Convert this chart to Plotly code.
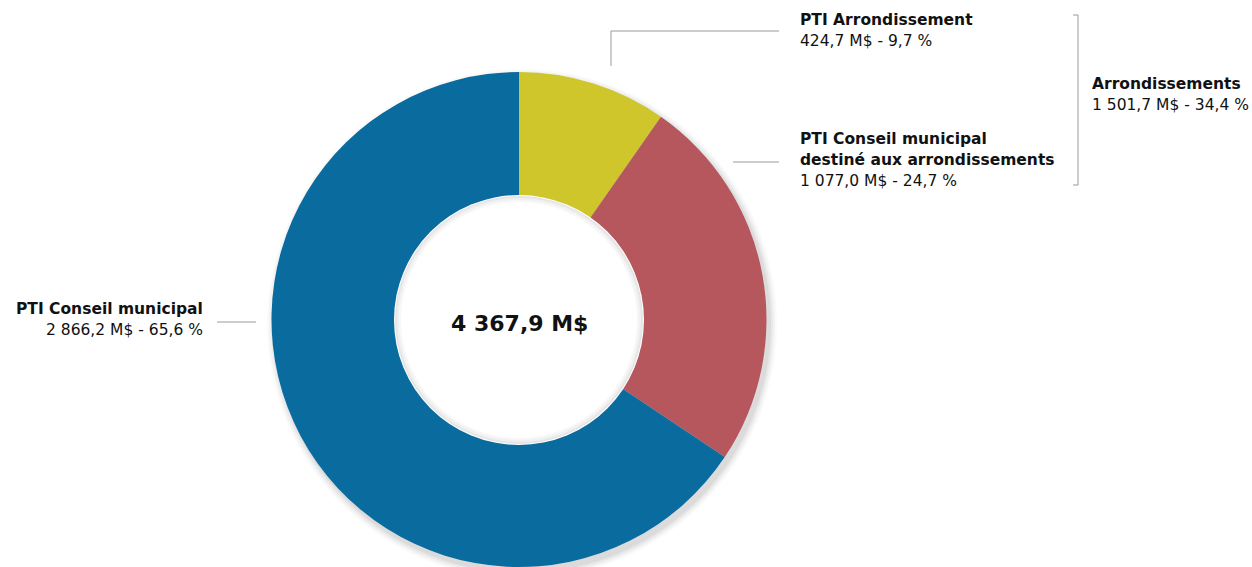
import plotly.graph_objects as go

W, H = 1252, 567

labels = ["PTI Arrondissement", "PTI Conseil municipal destiné aux arrondissements", "PTI Conseil municipal"]
values = [424.7, 1077.0, 2866.2]
colors = ["#CEC62A", "#B5575D", "#0A6B9E"]
total_label = "4 367,9 M$"
value_texts = ["424,7 M$ - 9,7 %", "1 077,0 M$ - 24,7 %", "2 866,2 M$ - 65,6 %"]
group_title = "Arrondissements"
group_text = "1 501,7 M$ - 34,4 %"

FONT = "DejaVu Sans"
FS = 15.5

def px(x):
    return x / W

def py(y):
    return 1 - y / H

cx, cy, r = 519, 320, 248
hole = 0.5

fig = go.Figure()
fig.add_trace(go.Pie(
    labels=labels, values=values, sort=False, direction="clockwise", rotation=0,
    hole=hole, marker=dict(colors=colors, line=dict(width=0)),
    textinfo="none", hoverinfo="label+value+percent", showlegend=False,
    domain=dict(x=[px(cx - r), px(cx + r)], y=[max(py(cy + r), 0), py(cy - r)]),
))

shapes = []
for i, a in enumerate([0.05, 0.04, 0.03, 0.02]):
    rr = r + 1 + i * 2
    ox, oy = 3, 4
    shapes.append(dict(type="circle", xref="paper", yref="paper", layer="below",
                       x0=px(cx + ox - rr), x1=px(cx + ox + rr), y0=py(cy + oy + rr), y1=py(cy + oy - rr),
                       fillcolor=f"rgba(0,0,0,{a})", line=dict(width=0)))
hr = r * hole
shapes.append(dict(type="circle", xref="paper", yref="paper", layer="above",
                   x0=px(cx - hr - 1), x1=px(cx + hr + 1), y0=py(cy + hr + 1), y1=py(cy - hr - 1),
                   fillcolor="white", line=dict(width=0)))
for i, a in enumerate([0.10, 0.06, 0.03]):
    rr = hr - 1 - i * 2
    shapes.append(dict(type="circle", xref="paper", yref="paper", layer="above",
                       x0=px(cx - rr), x1=px(cx + rr), y0=py(cy + rr), y1=py(cy - rr),
                       fillcolor="rgba(0,0,0,0)", line=dict(width=2, color=f"rgba(0,0,0,{a})")))

line = dict(color="#9a9a9a", width=1)
shapes.append(dict(type="path", xref="paper", yref="paper",
                   path=f"M {px(611)} {py(66)} L {px(611)} {py(31)} L {px(779)} {py(31)}", line=line))
shapes.append(dict(type="line", xref="paper", yref="paper", x0=px(733), x1=px(779), y0=py(162), y1=py(162), line=line))
shapes.append(dict(type="line", xref="paper", yref="paper", x0=px(217), x1=px(256), y0=py(322), y1=py(322), line=line))
shapes.append(dict(type="path", xref="paper", yref="paper",
                   path=f"M {px(1073)} {py(15)} L {px(1078)} {py(15)} L {px(1078)} {py(185)} L {px(1073)} {py(185)}",
                   line=line))

def txt(x, y, s, bold=False, anchor="left", size=FS):
    return dict(x=px(x), y=py(y), text=f"<b>{s}</b>" if bold else s,
                font=dict(size=size, color="#111", family=FONT), showarrow=False,
                xanchor=anchor, yanchor="middle", borderpad=0)

annotations = [
    txt(cx, cy + 3, total_label, bold=True, anchor="center", size=22),
    txt(799, 20, labels[0], bold=True),
    txt(799, 41, value_texts[0]),
    txt(799, 139, "PTI Conseil municipal", bold=True),
    txt(799, 160, "destiné aux arrondissements", bold=True),
    txt(799, 181, value_texts[1]),
    txt(1091, 84, group_title, bold=True),
    txt(1091, 105, group_text),
    txt(204, 309, labels[2], bold=True, anchor="right"),
    txt(204, 330, value_texts[2], anchor="right"),
]

fig.update_layout(width=W, height=H, margin=dict(l=0, r=0, t=0, b=0),
                  paper_bgcolor="white", plot_bgcolor="white",
                  shapes=shapes, annotations=annotations)

fig.write_html("out.html", post_script="document.body.style.margin='0';",
               config={"displayModeBar": False})
